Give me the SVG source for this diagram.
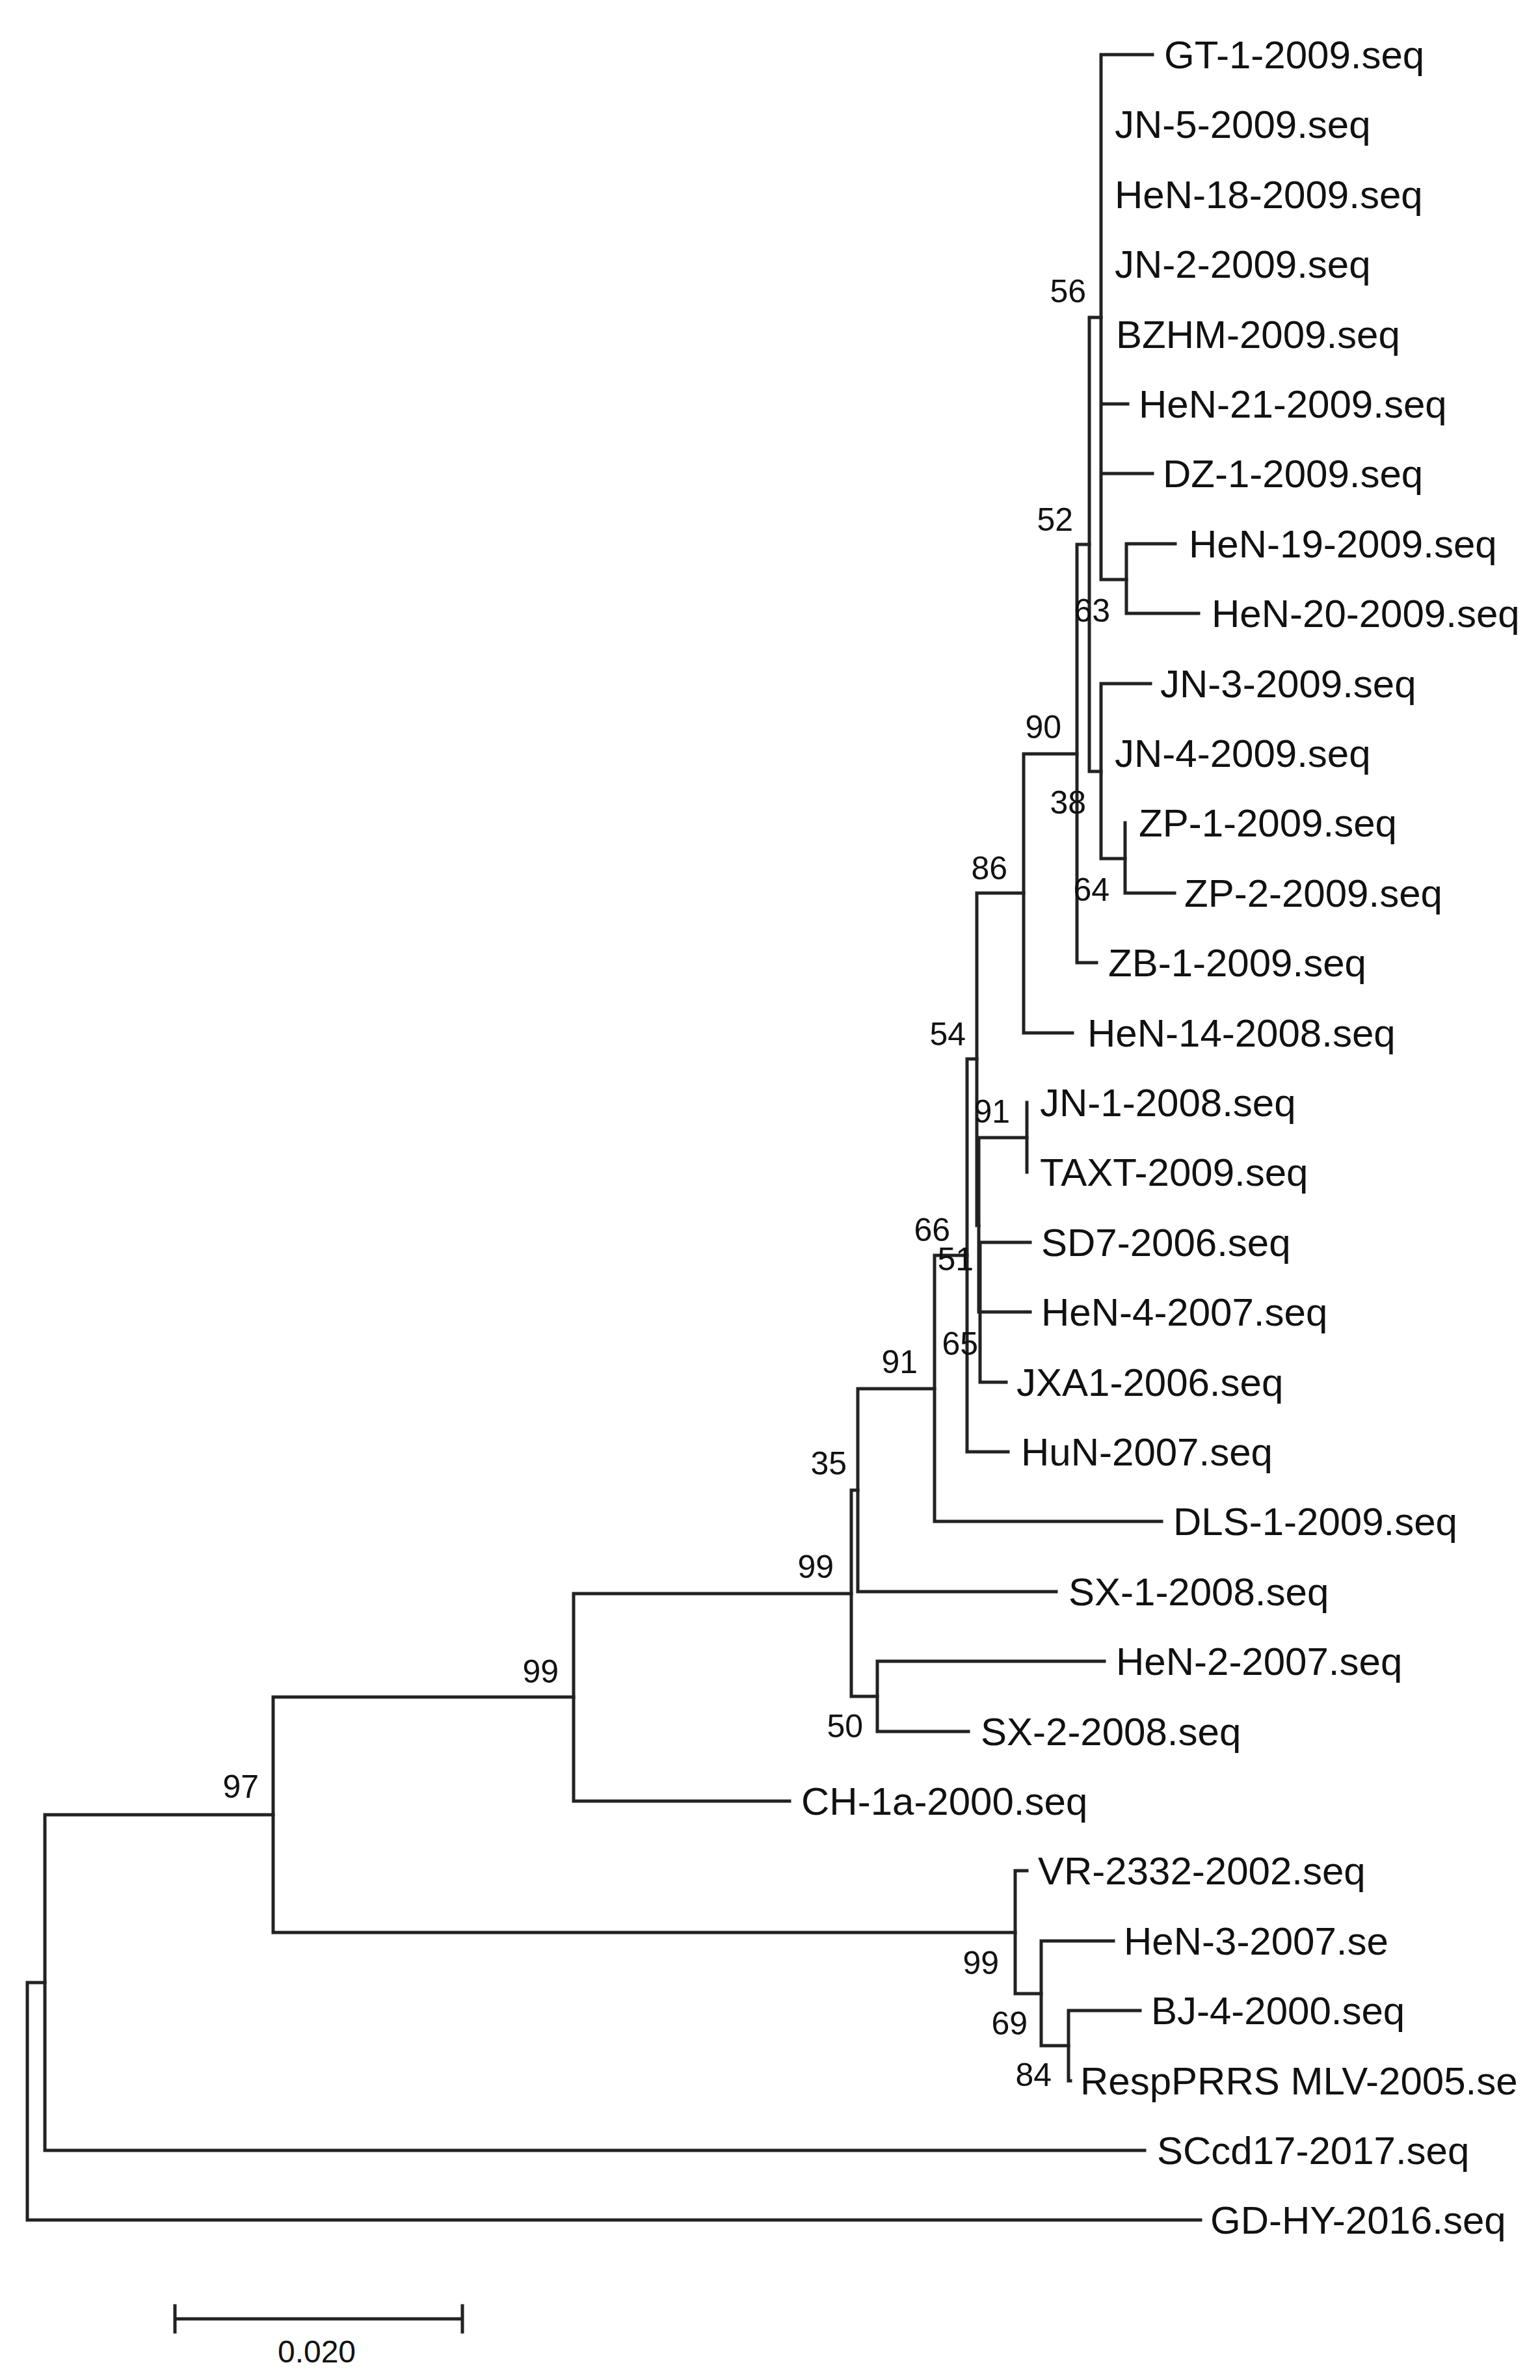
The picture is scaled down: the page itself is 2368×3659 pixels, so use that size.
<svg xmlns="http://www.w3.org/2000/svg" width="2368" height="3659" viewBox="0 0 2368 3659">
<style>
.leaf{font-family:"Liberation Sans",Arial,sans-serif;font-size:60px;fill:#111}
.bs{font-family:"Liberation Sans",Arial,sans-serif;font-size:50px;fill:#111;text-anchor:end}
.br{fill:none;stroke:#222;stroke-width:5;stroke-linecap:square}
</style>
<rect width="2368" height="3659" fill="#fff"/>
<g id="connectors" class="br">
<path d="M1693,84V891M1693,84H1772M1693,621H1734M1693,728H1772M1693,891H1732"/>
<path d="M1732,836V943M1732,836H1807M1732,943H1843"/>
<path d="M1675,488V1186M1675,488H1693M1675,1186H1693"/>
<path d="M1693,1051V1320M1693,1051H1769M1693,1320H1730"/>
<path d="M1730,1265V1373M1730,1373H1806"/>
<path d="M1656,837V1480M1656,837H1675M1656,1480H1686"/>
<path d="M1574,1159V1588M1574,1159H1656M1574,1588H1649"/>
<path d="M1502,1373V1884M1502,1373H1574M1502,1884H1505"/>
<path d="M1505,1749V2017M1505,1749H1579"/>
<path d="M1579,1695V1802"/>
<path d="M1507,1910V2125M1507,1910H1584M1507,2017H1584M1507,2125H1547"/>
<path d="M1487,1628V2232M1487,1628H1502M1487,2232H1550"/>
<path d="M1437,1930V2339M1437,1930H1487M1437,2339H1786"/>
<path d="M1319,2135V2447M1319,2135H1437M1319,2447H1624"/>
<path d="M1309,2291V2608M1309,2291H1319M1309,2608H1349"/>
<path d="M1349,2554V2662M1349,2554H1698M1349,2662H1489"/>
<path d="M882,2450V2769M882,2450H1309M882,2769H1214"/>
<path d="M1561,2876V3065M1561,2876H1579M1561,3065H1601"/>
<path d="M1601,2984V3145M1601,2984H1712M1601,3145H1643"/>
<path d="M1643,3091V3199M1643,3091H1753M1643,3199H1646"/>
<path d="M420,2609V2971M420,2609H882M420,2971H1561"/>
<path d="M69,2790V3306M69,2790H420M69,3306H1760"/>
<path d="M42,3048V3413M42,3048H69M42,3413H1846"/>
</g>
<g id="leaves" class="leaf">
<g id="leaf-GT-1"><text x="1790" y="105">GT-1-2009.seq</text></g>
<g id="leaf-JN-5"><text x="1714" y="212">JN-5-2009.seq</text></g>
<g id="leaf-HeN-18"><text x="1714" y="320">HeN-18-2009.seq</text></g>
<g id="leaf-JN-2"><text x="1714" y="427">JN-2-2009.seq</text></g>
<g id="leaf-BZHM"><text x="1716" y="535">BZHM-2009.seq</text></g>
<g id="leaf-HeN-21"><text x="1751" y="642">HeN-21-2009.seq</text></g>
<g id="leaf-DZ-1"><text x="1788" y="749">DZ-1-2009.seq</text></g>
<g id="leaf-HeN-19"><text x="1828" y="857">HeN-19-2009.seq</text></g>
<g id="leaf-HeN-20"><text x="1863" y="964">HeN-20-2009.seq</text></g>
<g id="leaf-JN-3"><text x="1784" y="1072">JN-3-2009.seq</text></g>
<g id="leaf-JN-4"><text x="1714" y="1179">JN-4-2009.seq</text></g>
<g id="leaf-ZP-1"><text x="1751" y="1286">ZP-1-2009.seq</text></g>
<g id="leaf-ZP-2"><text x="1821" y="1394">ZP-2-2009.seq</text></g>
<g id="leaf-ZB-1"><text x="1704" y="1501">ZB-1-2009.seq</text></g>
<g id="leaf-HeN-14"><text x="1672" y="1609">HeN-14-2008.seq</text></g>
<g id="leaf-JN-1"><text x="1599" y="1716">JN-1-2008.seq</text></g>
<g id="leaf-TAXT"><text x="1599" y="1823">TAXT-2009.seq</text></g>
<g id="leaf-SD7"><text x="1601" y="1931">SD7-2006.seq</text></g>
<g id="leaf-HeN-4"><text x="1601" y="2038">HeN-4-2007.seq</text></g>
<g id="leaf-JXA1"><text x="1563" y="2146">JXA1-2006.seq</text></g>
<g id="leaf-HuN"><text x="1570" y="2253">HuN-2007.seq</text></g>
<g id="leaf-DLS-1"><text x="1804" y="2360">DLS-1-2009.seq</text></g>
<g id="leaf-SX-1"><text x="1643" y="2468">SX-1-2008.seq</text></g>
<g id="leaf-HeN-2"><text x="1716" y="2575">HeN-2-2007.seq</text></g>
<g id="leaf-SX-2"><text x="1508" y="2683">SX-2-2008.seq</text></g>
<g id="leaf-CH-1a"><text x="1232" y="2790">CH-1a-2000.seq</text></g>
<g id="leaf-VR-2332"><text x="1596" y="2897">VR-2332-2002.seq</text></g>
<g id="leaf-HeN-3"><text x="1728" y="3005">HeN-3-2007.se</text></g>
<g id="leaf-BJ-4"><text x="1770" y="3112">BJ-4-2000.seq</text></g>
<g id="leaf-RespPRRS"><text x="1661" y="3220">RespPRRS MLV-2005.se</text></g>
<g id="leaf-SCcd17"><text x="1779" y="3327">SCcd17-2017.seq</text></g>
<g id="leaf-GD-HY"><text x="1861" y="3434">GD-HY-2016.seq</text></g>
</g>
<g id="internal-nodes" class="bs">
<g id="node-56"><text x="1670" y="465">56</text></g>
<g id="node-52"><text x="1650" y="816">52</text></g>
<g id="node-63"><text x="1707" y="956">63</text></g>
<g id="node-90"><text x="1632" y="1135">90</text></g>
<g id="node-38"><text x="1670" y="1251">38</text></g>
<g id="node-64"><text x="1706" y="1385">64</text></g>
<g id="node-86"><text x="1549" y="1352">86</text></g>
<g id="node-54"><text x="1485" y="1607">54</text></g>
<g id="node-91a"><text x="1553" y="1726">91</text></g>
<g id="node-66"><text x="1461" y="1908">66</text></g>
<g id="node-51"><text x="1497" y="1953">51</text></g>
<g id="node-65"><text x="1504" y="2083">65</text></g>
<g id="node-91b"><text x="1411" y="2111">91</text></g>
<g id="node-35"><text x="1302" y="2267">35</text></g>
<g id="node-99a"><text x="1282" y="2426">99</text></g>
<g id="node-50"><text x="1327" y="2671">50</text></g>
<g id="node-99b"><text x="859" y="2587">99</text></g>
<g id="node-97"><text x="398" y="2764">97</text></g>
<g id="node-99c"><text x="1536" y="3035">99</text></g>
<g id="node-69"><text x="1580" y="3128">69</text></g>
<g id="node-84"><text x="1617" y="3207">84</text></g>
</g>
<g id="scale-bar">
<path class="br" d="M269,3565H711M269,3545V3585M711,3545V3585"/>
<text x="487" y="3632" style="font-family:'Liberation Sans',Arial,sans-serif;font-size:48px;fill:#111;text-anchor:middle">0.020</text>
</g>
</svg>
